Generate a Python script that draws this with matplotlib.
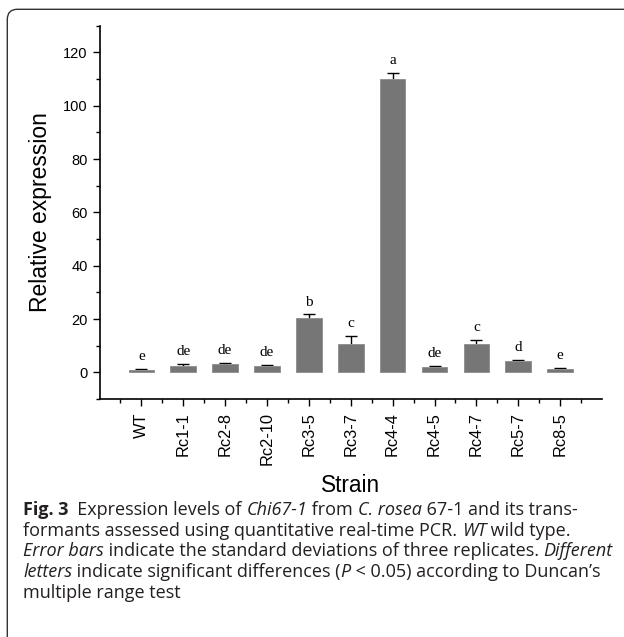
import numpy as np
import matplotlib
matplotlib.use('Agg')
import matplotlib.pyplot as plt
from matplotlib.patches import FancyBboxPatch

strains = ['WT', 'Rc1-1', 'Rc2-8', 'Rc2-10', 'Rc3-5', 'Rc3-7',
           'Rc4-4', 'Rc4-5', 'Rc4-7', 'Rc5-7', 'Rc8-5']
expr = [1.0, 2.5, 3.2, 2.5, 20.2, 10.7, 110.0, 2.1, 10.6, 4.3, 1.3]
sd = [0.2, 0.5, 0.4, 0.2, 1.5, 2.9, 2.2, 0.2, 1.7, 0.5, 0.4]
letters = ['e', 'de', 'de', 'de', 'b', 'c', 'a', 'de', 'c', 'd', 'e']

caption = [
    [('Fig. 3', 'bold', 'normal'), ('  Expression levels of ', 'normal', 'normal'),
     ('Chi67-1', 'normal', 'italic'), (' from ', 'normal', 'normal'),
     ('C. rosea', 'normal', 'italic'), (' 67-1 and its trans-', 'normal', 'normal')],
    [('formants assessed using quantitative real-time PCR. ', 'normal', 'normal'),
     ('WT', 'normal', 'italic'), (' wild type.', 'normal', 'normal')],
    [('Error bars', 'normal', 'italic'),
     (' indicate the standard deviations of three replicates. ', 'normal', 'normal'),
     ('Different', 'normal', 'italic')],
    [('letters', 'normal', 'italic'),
     (' indicate significant differences (', 'normal', 'normal'),
     ('P', 'normal', 'italic'), (' < 0.05) according to Duncan\u2019s', 'normal', 'normal')],
    [('multiple range test', 'normal', 'normal')],
]

W, H = 624, 637
fig = plt.figure(figsize=(W / 100, H / 100), dpi=100)

# frame round the figure (top and left only visible)
frame = FancyBboxPatch((7.3 / W, -0.05), 1.2, 1 - 9.3 / H + 0.05,
                       boxstyle='round,pad=0,rounding_size=0.016',
                       transform=fig.transFigure, fill=False,
                       edgecolor='#333333', linewidth=1.0, clip_on=False)
fig.patches.append(frame)

ax = fig.add_axes([99.5 / W, 1 - 399 / H, 502.5 / W, 373.3 / H])
x = np.arange(len(strains))
top = np.array(expr) + np.array(sd)
ax.vlines(x, expr, top, color='black', linewidth=1, zorder=1)
ax.plot(x, top, linestyle='none', marker='_', markersize=8,
        markeredgewidth=1, color='black', zorder=1)
ax.bar(x, expr, width=0.61, color='#767676', edgecolor='#8c8c8c',
       linewidth=0.6, zorder=2)
for xi, t_, lab in zip(x, top, letters):
    ax.text(xi, t_ + 2.2, lab, ha='center', va='bottom',
            fontsize=11, family='Liberation Serif')

ax.set_xlim(-1, len(strains))
ax.set_ylim(-10, 130)
ax.set_yticks(np.arange(0, 121, 20))
ax.set_yticks(np.arange(-10, 131, 10), minor=True)
ax.set_xticks(x)
ax.set_xticks(np.arange(-0.5, len(strains), 1), minor=True)
ax.set_xticklabels(strains, rotation=90, fontsize=11.8, family='Liberation Sans')
for t in ax.get_yticklabels():
    t.set_family('Liberation Sans')
    t.set_fontsize(10.5)
ax.tick_params(axis='y', which='major', direction='out', length=5, width=1, pad=3.4)
ax.tick_params(axis='x', which='major', direction='out', length=5, width=1, pad=4.6)
ax.tick_params(which='minor', direction='out', length=2.6, width=1)
ax.spines['top'].set_visible(False)
ax.spines['right'].set_visible(False)
ax.spines['left'].set_linewidth(1.2)
ax.spines['bottom'].set_linewidth(1.2)
ax.set_ylabel('Relative expression', fontsize=16.5, family='Liberation Sans', labelpad=8)
fig.text(ax.get_position().x0 + ax.get_position().width / 2, 1 - 485 / H, 'Strain',
         ha='center', va='center', fontsize=16.3, family='Liberation Sans')

# caption, built run by run; size chosen so the first line spans ~555 px
fig.canvas.draw()
renderer = fig.canvas.get_renderer()
x_left = 23.0


def draw_line(runs, yy, size):
    xpos = x_left
    for txt, weight, style in runs:
        t = fig.text(xpos / W, 1 - yy / H, txt, ha='left', va='center',
                     fontsize=size, family='Open Sans', fontweight=weight,
                     fontstyle=style, color='#231f20')
        xpos += t.get_window_extent(renderer).width
    return xpos - x_left


n_before = len(fig.texts)
w0 = draw_line(caption[0], -100, 12)
for t in fig.texts[n_before:]:
    t.remove()
size = 12 * 555 / w0

line_y = [510, 530.7, 551.4, 572.1, 592.8]
for runs, yy in zip(caption, line_y):
    draw_line(runs, yy, size)

fig.savefig('out.png', dpi=100)
